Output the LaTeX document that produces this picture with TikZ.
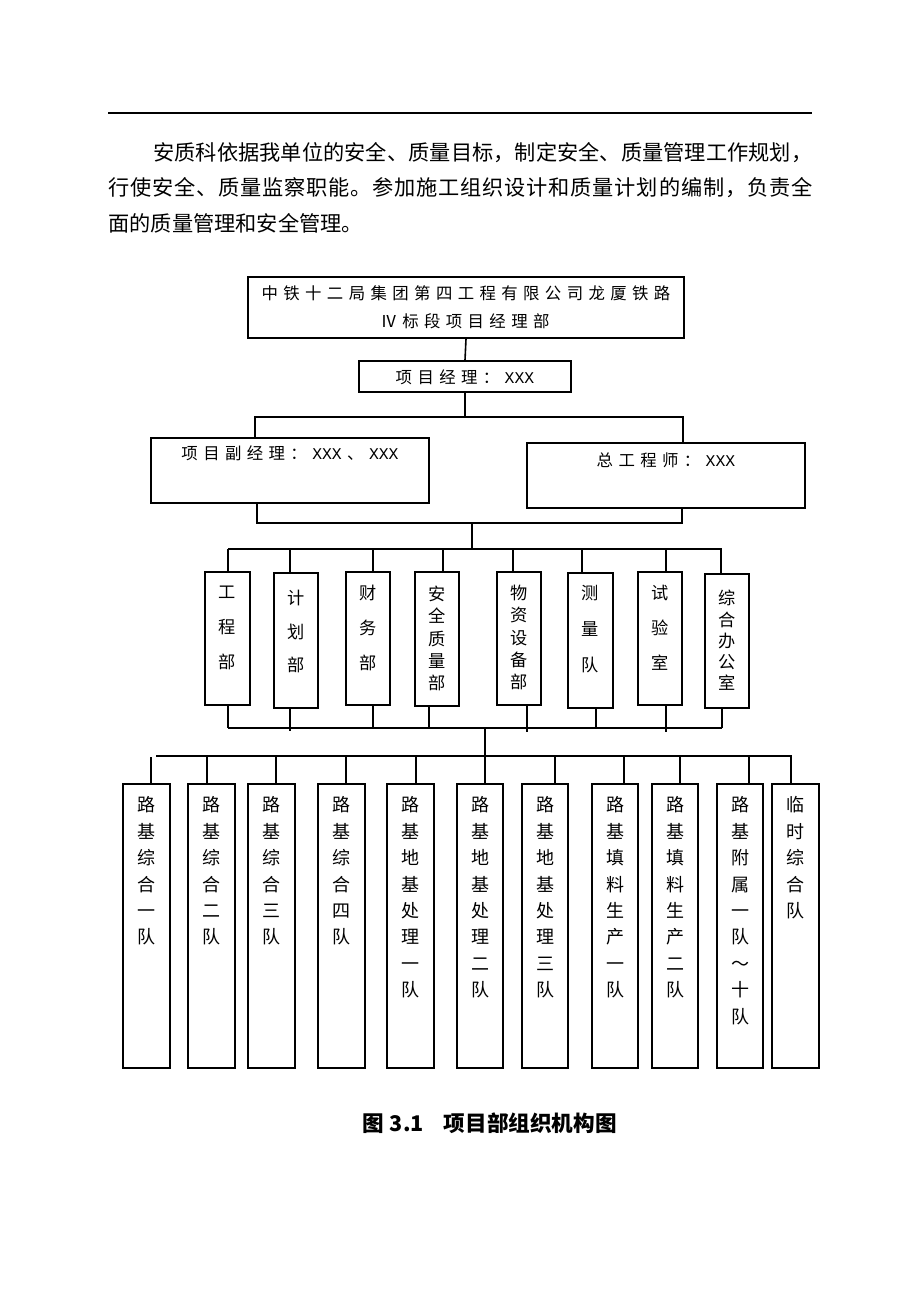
\documentclass[tikz,border=0pt]{standalone}
\usepackage{fontspec}
\setmainfont{Noto Sans CJK SC}
\newfontfamily\cjk{Noto Sans CJK SC}
\newfontfamily\monofnt{Liberation Mono}
\usetikzlibrary{fit}
\makeatletter
\newcommand\spreadtext[2]{\def\sp@gap{#1}\sp@first#2\relax}
\def\sp@first#1{#1\sp@rest}
\def\sp@rest#1{\ifx#1\relax\else\sp@gap#1\expandafter\sp@rest\fi}
\makeatother
\newcommand\xxx{{\monofnt XXX}}
\newcommand\chfont[1]{\cjk\fontsize{8.2}{#1}\selectfont}
\newcommand\dfont[1]{\cjk\fontsize{8.6}{#1}\selectfont}
\newcommand\tfont{\cjk\fontsize{9}{13.2}\selectfont}
\newcommand\bodyfont{\cjk\fontsize{10.6}{16}\selectfont}
\newcommand\capfont{\cjk\bfseries\fontsize{10.8}{13}\selectfont}
\newcommand\hsp[1]{\spreadtext{\hspace{2.7pt}}{#1}}
\tikzset{
  box/.style={draw, line width=0.9pt, inner sep=0pt},
  conn/.style={line width=0.8pt},
  vtxt/.style={align=center, inner sep=0pt},
  htxt/.style={inner sep=0pt, font=\chfont{10}},
}
\begin{document}
\begin{tikzpicture}[x=0.5pt,y=-0.5pt]
\fill[white] (0,0) rectangle (920,1302);
\useasboundingbox (0,0) rectangle (920,1302);

% header rule and paragraph
\draw[line width=0.8pt] (108,113) -- (812,113);
\node[anchor=west, inner sep=0pt, font=\bodyfont] (p1) at (153,153)
  {\makebox[329.5pt][l]{\spreadtext{\hfill}{安质科依据我单位的安全、质量目标，制定安全、质量管理工作规划，}}};
\node[anchor=west, inner sep=0pt, font=\bodyfont] (p2) at (108,188)
  {\makebox[352pt][l]{\spreadtext{\hfill}{行使安全、质量监察职能。参加施工组织设计和质量计划的编制，负责全}}};
\node[anchor=west, inner sep=0pt, font=\bodyfont] (p3) at (108,223)
  {面的质量管理和安全管理。};

% top levels
\node[box, fit={(248,277) (684,338)}] (top) {};
\node[htxt] (topt1) at (466,293) {\hsp{中铁十二局集团第四工程有限公司龙厦铁路}};
\node[htxt] (topt2) at (465,321) {\hsp{Ⅳ标段项目经理部}};

\node[box, fit={(359,361) (571,392)}] (mgr) {};
\node[htxt] (mgrt) at (465,377) {\hsp{项目经理：\xxx}};

\node[box, fit={(151,438) (429,503)}] (vice) {};
\node[htxt] (vicet) at (290,453) {\hsp{项目副经理：\xxx、\xxx}};

\node[box, fit={(527,443) (805,508)}] (chief) {};
\node[htxt] (chieft) at (666,460) {\hsp{总工程师：\xxx}};

\draw[conn] (top.south) -- (mgr.north);
\coordinate (aL) at (255,417);
\coordinate (aR) at (683,417);
\draw[conn] (mgr.south) -- (mgr.south |- aL);
\draw[conn] (aL |- vice.north) -- (aL) -- (aR) -- (aR |- chief.north);
\coordinate (bL) at (257,523);
\coordinate (bR) at (682,523);
\draw[conn] (bL |- vice.south) -- (bL) -- (bR) -- (bR |- chief.south);
\coordinate (bM) at (472,523);
\coordinate (cM) at (472,549);
\draw[conn] (bM) -- (cM);

% departments
\node[box, fit={(205,572) (250,705)}] (d1) {};
\node[box, fit={(274,573) (318,708)}] (d2) {};
\node[box, fit={(346,572) (390,705)}] (d3) {};
\node[box, fit={(415,572) (459,706)}] (d4) {};
\node[box, fit={(497,572) (541,705)}] (d5) {};
\node[box, fit={(568,573) (613,708)}] (d6) {};
\node[box, fit={(638,572) (682,705)}] (d7) {};
\node[box, fit={(705,574) (749,708)}] (d8) {};

\node[vtxt, font=\dfont{17.5}] (d1t) at (227.5,628) {工\\程\\部};
\node[vtxt, font=\dfont{16.75}] (d2t) at (296,631.5) {计\\划\\部};
\node[vtxt, font=\dfont{17.5}] (d3t) at (368,628) {财\\务\\部};
\node[vtxt, font=\dfont{11.1}] (d4t) at (437,638.5) {安\\全\\质\\量\\部};
\node[vtxt, font=\dfont{11.1}] (d5t) at (519,637.5) {物\\资\\设\\备\\部};
\node[vtxt, font=\dfont{18}] (d6t) at (590.5,629) {测\\量\\队};
\node[vtxt, font=\dfont{17.5}] (d7t) at (660,628) {试\\验\\室};
\node[vtxt, font=\dfont{10.6}] (d8t) at (727,640.5) {综\\合\\办\\公\\室};

\coordinate (tL) at (228,549);
\coordinate (tR) at (722,549);
\draw[conn] (tL) -- (tR);
\foreach \n/\x in {d1/228,d2/290,d3/373,d4/443,d5/513,d6/582,d7/666,d8/721}{
  \coordinate (t\n) at (\x,549);
  \draw[conn] (t\n) -- (t\n |- \n.north);
}
\coordinate (uL) at (228,728);
\coordinate (uR) at (722,728);
\draw[conn] (uL) -- (uR);
\foreach \n/\x/\e in {d1/228/728,d2/290/731,d3/373/728,d4/429/728,d5/527/732,d6/596/728,d7/666/732,d8/722/728}{
  \coordinate (u\n) at (\x,\e);
  \draw[conn] (u\n |- \n.south) -- (u\n);
}

% teams
\node[box, fit={(123,784) (170,1068)}] (e1) {};
\node[box, fit={(188,784) (235,1068)}] (e2) {};
\node[box, fit={(248,784) (295,1068)}] (e3) {};
\node[box, fit={(318,784) (365,1068)}] (e4) {};
\node[box, fit={(387,784) (434,1068)}] (e5) {};
\node[box, fit={(457,784) (503,1068)}] (e6) {};
\node[box, fit={(522,784) (568,1068)}] (e7) {};
\node[box, fit={(592,784) (638,1068)}] (e8) {};
\node[box, fit={(652,784) (698,1068)}] (e9) {};
\node[box, fit={(717,784) (763,1068)}] (e10) {};
\node[box, fit={(772,784) (819,1068)}] (e11) {};

\node[vtxt, font=\tfont] (e1t) at (146.5,871) {路\\基\\综\\合\\一\\队};
\node[vtxt, font=\tfont] (e2t) at (211.5,871) {路\\基\\综\\合\\二\\队};
\node[vtxt, font=\tfont] (e3t) at (271.5,871) {路\\基\\综\\合\\三\\队};
\node[vtxt, font=\tfont] (e4t) at (341.5,871) {路\\基\\综\\合\\四\\队};
\node[vtxt, font=\tfont] (e5t) at (410.5,897.4) {路\\基\\地\\基\\处\\理\\一\\队};
\node[vtxt, font=\tfont] (e6t) at (480,897.4) {路\\基\\地\\基\\处\\理\\二\\队};
\node[vtxt, font=\tfont] (e7t) at (545,897.4) {路\\基\\地\\基\\处\\理\\三\\队};
\node[vtxt, font=\tfont] (e8t) at (615,897.4) {路\\基\\填\\料\\生\\产\\一\\队};
\node[vtxt, font=\tfont] (e9t) at (675,897.4) {路\\基\\填\\料\\生\\产\\二\\队};
\node[vtxt, font=\tfont] (e10t) at (740,910.6) {路\\基\\附\\属\\一\\队\\～\\十\\队};
\node[vtxt, font=\tfont] (e11t) at (795.5,857.8) {临\\时\\综\\合\\队};

\coordinate (vL) at (156,756);
\coordinate (vR) at (792,756);
\draw[conn] (vL) -- (vR);
\coordinate (ve1) at (151,757);
\draw[conn] (ve1) -- (ve1 |- e1.north);
\foreach \n/\x in {e2/207,e3/276,e4/346,e5/416,e7/555,e8/624,e9/680,e10/749,e11/791}{
  \coordinate (v\n) at (\x,756);
  \draw[conn] (v\n) -- (v\n |- e11.north);
}
\coordinate (dc) at (485,728);
\draw[conn] (dc) -- (dc |- e6.north);

% caption
\node[anchor=west, inner sep=0pt, font=\capfont] (cap) at (362,1123)
  {图\hspace{3pt}3.1\hspace{10pt}项目部组织机构图};
\end{tikzpicture}
\end{document}
